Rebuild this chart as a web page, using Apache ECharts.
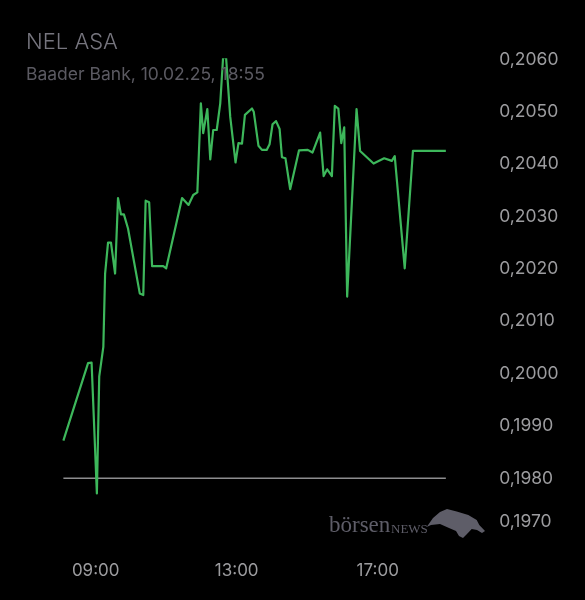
<!DOCTYPE html>
<html>
<head>
<meta charset="utf-8">
<script src="https://cdn.jsdelivr.net/npm/echarts@6/dist/echarts.min.js"></script>
<style>
html,body{margin:0;padding:0;background:#000;}
#chart{width:585px;height:600px;}
</style>
</head>
<body>
<div id="chart"></div>
<script>
const titleText = 'NEL ASA';
const subtitleText = 'Baader Bank, 10.02.25, 18:55';
const xTickLabels = ['09:00', '13:00', '17:00'];
const yTicks = [0.1970, 0.1980, 0.1990, 0.2000, 0.2010, 0.2020, 0.2030, 0.2040, 0.2050, 0.2060];
const refPrice = 0.1980;
const times = ['08:05','08:47','08:53','09:02','09:06','09:13','09:16','09:21','09:26','09:33','09:38','09:43','09:48','09:55',
  '10:15','10:21','10:25','10:31','10:36','10:55','11:00','11:27','11:38','11:46','11:53','11:59','12:03','12:10','12:15',
  '12:20','12:26','12:32','12:37','12:42','12:49','12:58','13:03','13:09','13:14','13:26','13:29','13:37','13:43','13:51',
  '13:56','14:01','14:07','14:13','14:17','14:23','14:31','14:46','15:01','15:04','15:09','15:22','15:28','15:34','15:42',
  '15:47','15:53','15:58','16:03','16:08','16:24','16:30','16:53','17:11','17:24','17:29','17:46','18:00','18:56'];
const prices = [0.19872,0.20020,0.20021,0.19771,0.19994,0.20051,0.20191,0.20250,0.20250,0.20191,0.20335,0.20304,0.20304,0.20277,
  0.20153,0.20150,0.20330,0.20327,0.20205,0.20205,0.20201,0.20335,0.20322,0.20341,0.20346,0.20516,0.20459,0.20505,0.20409,
  0.20465,0.20465,0.20516,0.20606,0.20602,0.20490,0.20403,0.20440,0.20439,0.20494,0.20506,0.20500,0.20435,0.20427,0.20427,
  0.20438,0.20476,0.20482,0.20467,0.20413,0.20411,0.20352,0.20426,0.20427,0.20430,0.20422,0.20460,0.20377,0.20390,0.20377,
  0.20511,0.20506,0.20440,0.20470,0.20147,0.20505,0.20425,0.20401,0.20411,0.20406,0.20415,0.20201,0.20425,0.20425];

function toHours(s){ const p = s.split(':'); return +p[0] + (+p[1])/60; }
const lineData = times.map((t, i) => [toHours(t), prices[i]]);
const refData = [[toHours(times[0]), refPrice], [toHours(times[times.length-1]), refPrice]];
const xLabelHours = xTickLabels.map(toHours);

const chart = echarts.init(document.getElementById('chart'), null, {renderer: 'canvas'});
const FONT = 'Inter, "Noto Sans", sans-serif';
chart.setOption({
  backgroundColor: '#000000',
  animation: false,
  title: {
    text: titleText,
    subtext: subtitleText,
    left: 21,
    top: 26,
    itemGap: 13,
    textStyle: {fontFamily: FONT, fontSize: 22, fontWeight: 300, color: '#76757e'},
    subtextStyle: {fontFamily: FONT, fontSize: 17.5, fontWeight: 400, color: '#5b5a62'}
  },
  grid: {left: 60.45, right: 136.8, top: 59.3, bottom: 69.3, containLabel: false},
  xAxis: {
    type: 'value', min: 8, max: 19, interval: 1,
    axisLine: {show: false}, axisTick: {show: false}, splitLine: {show: false},
    axisLabel: {
      margin: 32, fontFamily: FONT, fontSize: 17, color: '#9c9c9f',
      formatter: function(v){ const i = xLabelHours.indexOf(v); return i >= 0 ? xTickLabels[i] : ''; }
    }
  },
  yAxis: {
    type: 'value', position: 'right', min: yTicks[0], max: yTicks[yTicks.length-1], interval: 0.001,
    axisLine: {show: false}, axisTick: {show: false}, splitLine: {show: false},
    axisLabel: {
      margin: 51, align: 'left', fontFamily: FONT, fontSize: 17.5, color: '#9c9c9f',
      verticalAlignMinLabel: 'bottom',
      formatter: function(v){ return v.toFixed(4).replace('.', ','); }
    }
  },
  series: [
    {type: 'line', data: refData, symbol: 'none', silent: true,
     lineStyle: {color: '#8d8d8f', width: 1.5}, z: 1},
    {type: 'line', data: lineData, symbol: 'none', silent: true,
     lineStyle: {color: '#3db75b', width: 2.2, join: 'round'}, z: 2}
  ],
  graphic: [
    {type: 'text', x: 329, y: 514, style: {text: 'börsen', font: '23px "Liberation Serif", serif', fill: '#5e5d68'}},
    {type: 'text', x: 391, y: 523, style: {text: 'NEWS', font: '13px "Liberation Serif", serif', fill: '#5e5d68'}},
    {type: 'polygon', shape: {points: [[426.7,527],[433,518],[440,512],[447,509],[456.7,511.5],[468.3,515],[476.7,520],[479.3,525],[485,531],[482,533],[477,530],[471.7,529],[467,534],[463,538],[459,536],[456,531],[449,528],[440,524],[431,525]]},
     style: {fill: '#5e5d68'}}
  ]
});
</script>
</body>
</html>
